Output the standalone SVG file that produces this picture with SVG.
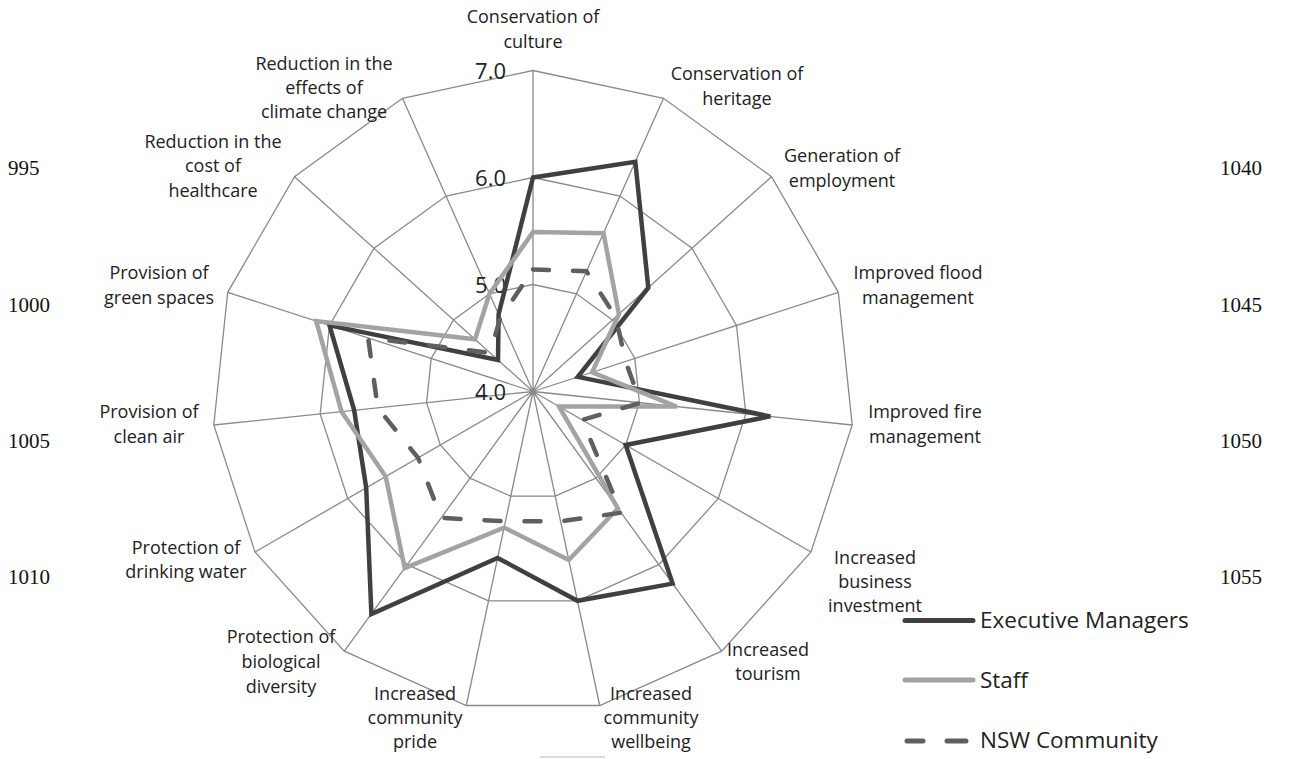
<svg xmlns="http://www.w3.org/2000/svg" width="1300" height="759" viewBox="0 0 1300 759">
<style>
.grid{fill:none;stroke:#8a8a8a;stroke-width:1.3}
.lbl{font-family:"Open Sans","Noto Sans",sans-serif;font-size:18px;fill:#222;text-anchor:middle}
.scale{font-family:"Open Sans","Noto Sans",sans-serif;font-size:22px;fill:#222;text-anchor:end}
.leg{font-family:"Open Sans","Noto Sans",sans-serif;font-size:22.5px;fill:#222}
.num{font-family:"Liberation Serif","Times New Roman",serif;font-size:21px;fill:#111}
.exec{fill:none;stroke:#404040;stroke-width:4.5;stroke-linejoin:miter}
.staff{fill:none;stroke:#a3a3a3;stroke-width:4.5;stroke-linejoin:miter}
.nsw{fill:none;stroke:#5f5f5f;stroke-width:4.5;stroke-dasharray:16 24;stroke-linecap:round}
</style>
<rect width="1300" height="759" fill="#fff"/>
<g id="grid">
<polygon class="grid" points="533,284.5 576.5,293.8 612.5,319.9 634.8,358.4 639.4,402.7 625.7,445 595.9,478.1 555.2,496.2 510.8,496.2 470.1,478.1 440.3,445 426.6,402.7 431.2,358.4 453.5,319.9 489.5,293.8"/>
<polygon class="grid" points="533,177.5 620,196 692,248.3 736.5,325.4 745.8,413.9 718.3,498.5 658.8,564.6 577.5,600.8 488.5,600.8 407.2,564.6 347.7,498.5 320.2,413.9 329.5,325.4 374,248.3 446,196"/>
<polygon class="grid" points="533,70.5 663.5,98.3 771.5,176.7 838.3,292.3 852.2,425 811,552 721.7,651.2 599.7,705.5 466.3,705.5 344.3,651.2 255,552 213.8,425 227.7,292.3 294.5,176.7 402.5,98.3"/>
<path class="grid" d="M533,391.5L533,70.5M533,391.5L663.5,98.3M533,391.5L771.5,176.7M533,391.5L838.3,292.3M533,391.5L852.2,425M533,391.5L811,552M533,391.5L721.7,651.2M533,391.5L599.7,705.5M533,391.5L466.3,705.5M533,391.5L344.3,651.2M533,391.5L255,552M533,391.5L213.8,425M533,391.5L227.7,292.3M533,391.5L294.5,176.7M533,391.5L402.5,98.3"/>
</g>
<g id="scale">
<text class="scale" x="506" y="78.5">7.0</text>
<text class="scale" x="506" y="185.5">6.0</text>
<text class="scale" x="506" y="292.5">5.0</text>
<text class="scale" x="506" y="399.5">4.0</text>
</g>
<g id="connectors">
<polygon id="series-exec" class="exec" points="533,177.5 635.3,161.8 648.3,287.7 577.8,376.9 770.3,416.4 625.7,445 672.6,583.6 577.5,600.8 497.6,557.9 371.4,614 366.2,487.8 354.2,410.3 329.5,325.4 498,360 498.6,314.3"/>
<polygon id="series-staff" class="staff" points="533,232.1 603.5,233.2 618.9,314.2 592.1,372.3 676.7,406.6 559,406.5 617.9,508.4 568.8,560 504.1,527.6 404.7,568.1 385.7,476.6 341.5,411.6 316.2,321.1 475,339.2 489.5,293.8"/>
<polygon id="series-nsw" class="nsw" points="533,269.5 586.5,271.3 615.7,317 625.6,361.4 640.5,402.8 582.1,419.9 621.1,512.7 560.6,521.3 505.4,521.3 441.2,517.9 418.1,457.9 377.7,407.8 368.2,337.9 490,352.8 500.3,318.1"/>
</g>
<g id="axis-labels">
<g id="n0"><text class="lbl" x="533" y="23">Conservation of</text><text class="lbl" x="533" y="48">culture</text></g>
<g id="n1"><text class="lbl" x="737" y="80">Conservation of</text><text class="lbl" x="737" y="105">heritage</text></g>
<g id="n2"><text class="lbl" x="842" y="162">Generation of</text><text class="lbl" x="842" y="187">employment</text></g>
<g id="n3"><text class="lbl" x="918" y="279">Improved flood</text><text class="lbl" x="918" y="304">management</text></g>
<g id="n4"><text class="lbl" x="925" y="418">Improved fire</text><text class="lbl" x="925" y="443">management</text></g>
<g id="n5"><text class="lbl" x="875" y="564">Increased</text><text class="lbl" x="875" y="588">business</text><text class="lbl" x="875" y="612">investment</text></g>
<g id="n6"><text class="lbl" x="768" y="656">Increased</text><text class="lbl" x="768" y="680">tourism</text></g>
<g id="n7"><text class="lbl" x="651" y="700">Increased</text><text class="lbl" x="651" y="724">community</text><text class="lbl" x="651" y="748">wellbeing</text></g>
<g id="n8"><text class="lbl" x="415" y="700">Increased</text><text class="lbl" x="415" y="724">community</text><text class="lbl" x="415" y="748">pride</text></g>
<g id="n9"><text class="lbl" x="281" y="643">Protection of</text><text class="lbl" x="281" y="668">biological</text><text class="lbl" x="281" y="693">diversity</text></g>
<g id="n10"><text class="lbl" x="186" y="554">Protection of</text><text class="lbl" x="186" y="578">drinking water</text></g>
<g id="n11"><text class="lbl" x="149" y="418">Provision of</text><text class="lbl" x="149" y="443">clean air</text></g>
<g id="n12"><text class="lbl" x="159" y="279">Provision of</text><text class="lbl" x="159" y="304">green spaces</text></g>
<g id="n13"><text class="lbl" x="213" y="148">Reduction in the</text><text class="lbl" x="213" y="172">cost of</text><text class="lbl" x="213" y="197">healthcare</text></g>
<g id="n14"><text class="lbl" x="324" y="70">Reduction in the</text><text class="lbl" x="324" y="94">effects of</text><text class="lbl" x="324" y="118">climate change</text></g>
</g>
<g id="legend">
<line x1="905" y1="620.5" x2="973" y2="620.5" stroke="#404040" stroke-width="5" stroke-linecap="round"/>
<text class="leg" x="980" y="628">Executive Managers</text>
<line x1="905" y1="680" x2="973" y2="680" stroke="#a3a3a3" stroke-width="5" stroke-linecap="round"/>
<text class="leg" x="980" y="688">Staff</text>
<line x1="907" y1="741" x2="923" y2="741" stroke="#5f5f5f" stroke-width="5" stroke-linecap="round"/>
<line x1="947" y1="741" x2="966" y2="741" stroke="#5f5f5f" stroke-width="5" stroke-linecap="round"/>
<text class="leg" x="980" y="748">NSW Community</text>
</g>
<g id="line-numbers">
<text class="num" x="8" y="175">995</text>
<text class="num" x="8" y="312">1000</text>
<text class="num" x="8" y="448">1005</text>
<text class="num" x="8" y="584">1010</text>
<text class="num" x="1220" y="175">1040</text>
<text class="num" x="1220" y="312">1045</text>
<text class="num" x="1220" y="448">1050</text>
<text class="num" x="1220" y="584">1055</text>
</g>
<rect x="540" y="756" width="65" height="2" fill="#dcdcdc"/>
</svg>
